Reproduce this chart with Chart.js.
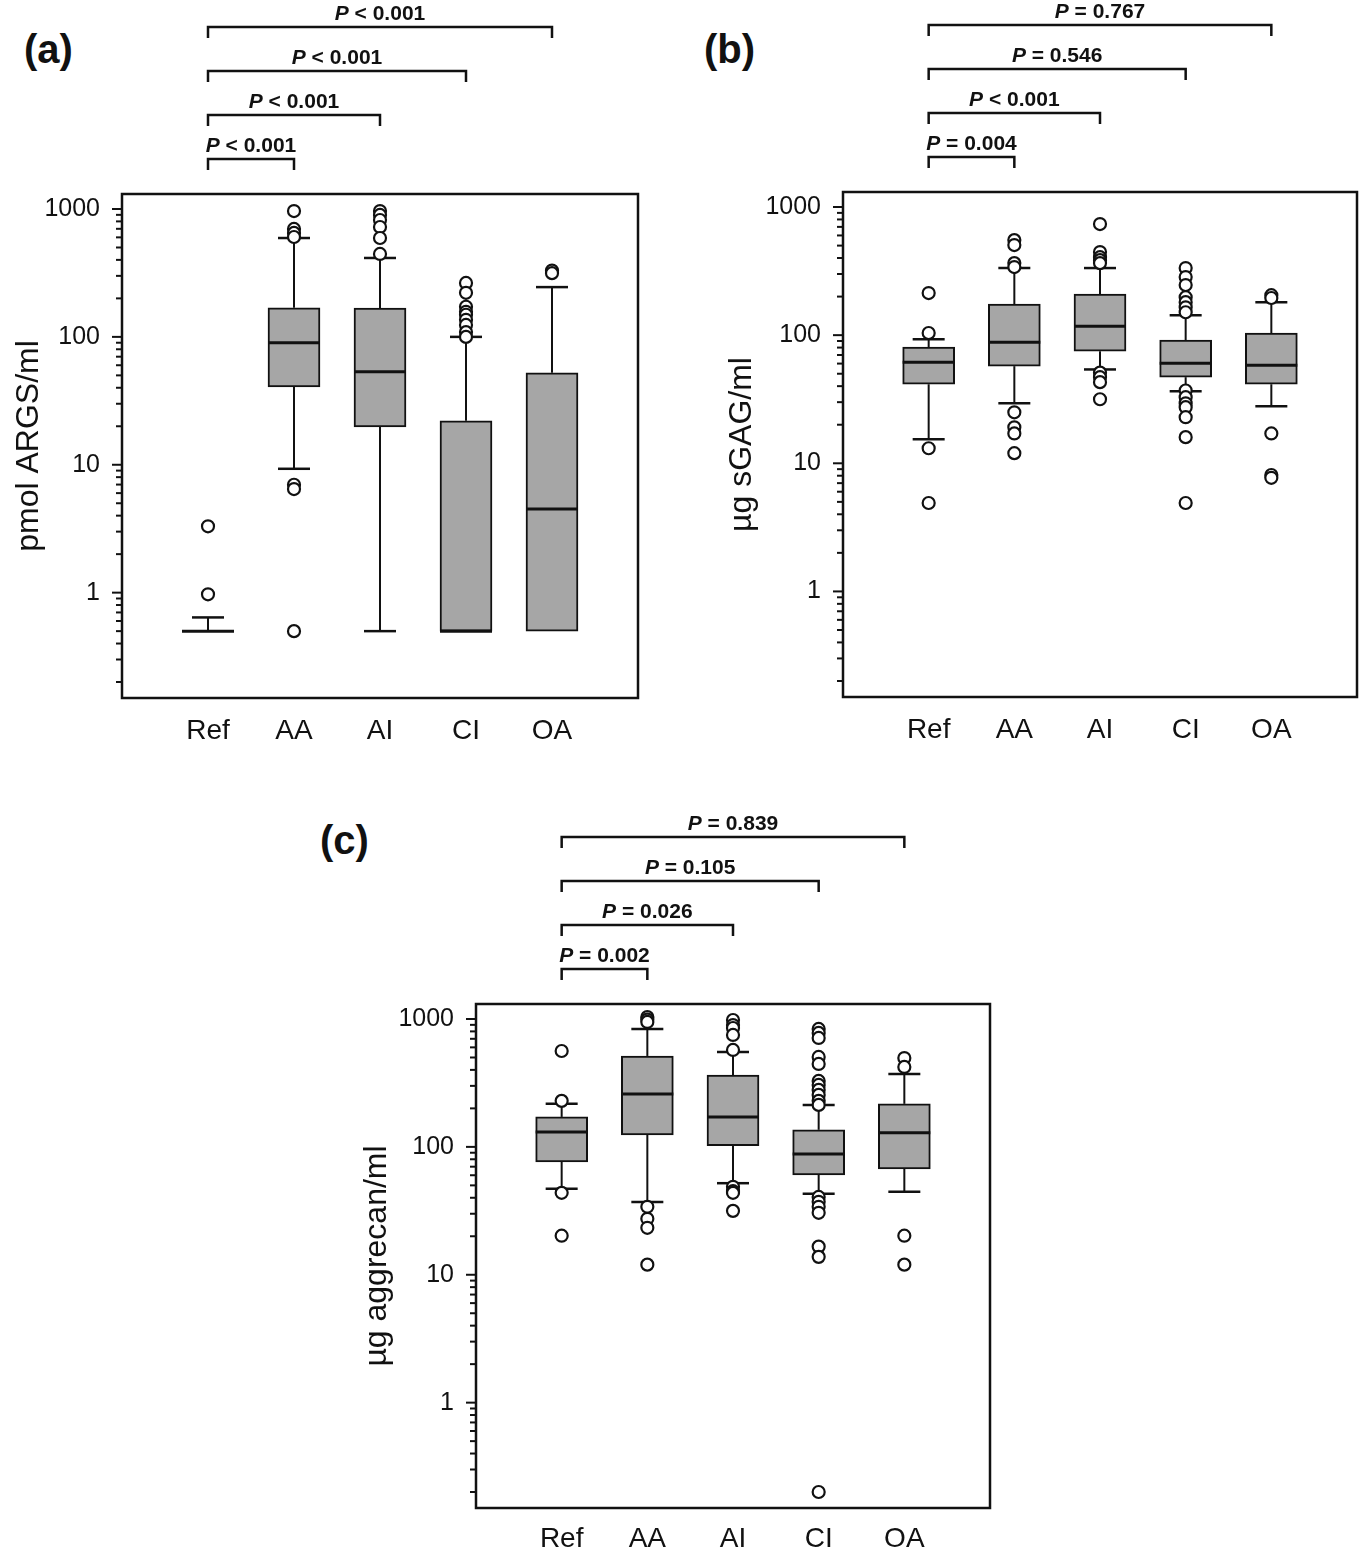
<!DOCTYPE html>
<html>
<head>
<meta charset="utf-8">
<script src="https://cdn.jsdelivr.net/npm/chart.js@4.4.1/dist/chart.umd.min.js"></script>
<style>
  body { margin: 0; background: #fff; }
  #page { position: relative; width: 1360px; height: 1550px; overflow: hidden; }
  .panel { position: absolute; }
  .tag { position: absolute; font: bold 40px "Liberation Sans", Arial, sans-serif; color: #111; line-height: 44px; }
</style>
</head>
<body>
<div id="page">
  <div class="tag" style="left:24px;top:27px">(a)</div>
  <div class="tag" style="left:704px;top:27px">(b)</div>
  <div class="tag" style="left:320px;top:818px">(c)</div>
  <div class="panel" style="left:0;top:0;width:680px;height:790px"><canvas id="chartA"></canvas></div>
  <div class="panel" style="left:680px;top:0;width:700px;height:790px"><canvas id="chartB"></canvas></div>
  <div class="panel" style="left:300px;top:790px;width:720px;height:760px"><canvas id="chartC"></canvas></div>
</div>
<script>
const groups = ['Ref', 'AA', 'AI', 'CI', 'OA'];
const yTickValues = [1, 10, 100, 1000];

// (a) pmol ARGS/ml
const argsLow    = [0.5, 9.3, 0.5, 0.5, 0.5];
const argsQ1     = [0.5, 40.6, 19.8, 0.5, 0.5];
const argsMedian = [0.5, 89.8, 53.3, 0.5, 4.5];
const argsQ3     = [0.5, 169, 168, 22.1, 52.4];
const argsHigh   = [0.64, 593, 414, 100, 245];
const argsOutliers = [
  [0.97, 3.3],
  [964, 698, 650, 604, 6.98, 6.46, 0.5],
  [964, 898, 820, 723, 593, 445],
  [264, 221, 172, 157, 149, 136, 124, 109, 100],
  [330, 315]
];
const argsP = ['< 0.001', '< 0.001', '< 0.001', '< 0.001'];

// (b) µg sGAG/ml
const sgagLow    = [15.4, 29.4, 54, 36.5, 27.9];
const sgagQ1     = [41.4, 57.3, 75, 47, 41.4];
const sgagMedian = [61.5, 88, 117.5, 60.4, 58.3];
const sgagQ3     = [80.6, 174.6, 209, 91.4, 104];
const sgagHigh   = [93, 334, 334, 143, 181];
const sgagOutliers = [
  [213, 104, 13.1, 4.9],
  [552, 505, 365, 340, 25, 19.1, 17.1, 12],
  [736, 445, 406, 385, 365, 51, 47, 43, 31.6],
  [334, 284, 246, 198, 181, 165, 151, 37, 32.8, 29.4, 27.4, 22.9, 16, 4.9],
  [205, 195, 17.1, 8.1, 7.7]
];
const sgagP = ['= 0.004', '< 0.001', '= 0.546', '= 0.767'];

// (c) µg aggrecan/ml
const aggLow    = [47, 37, 52, 43, 44.5];
const aggQ1     = [76.4, 124, 102, 60.4, 67.3];
const aggMedian = [131, 259, 171, 88, 129];
const aggQ3     = [171.5, 514, 365, 136, 217];
const aggHigh   = [217, 836, 552, 213, 372];
const aggOutliers = [
  [562, 229, 43.7, 20.2],
  [1036, 990, 948, 34, 27.4, 23.3, 12],
  [982, 897, 850, 750, 573, 48.7, 45, 43.7, 31.6],
  [836, 778, 711, 505, 445, 328, 305, 279, 255, 229, 213, 40.6, 37.2, 34, 30.5, 16.6, 13.8, 0.2],
  [495, 422, 20.2, 12]
];
const aggP = ['= 0.002', '= 0.026', '= 0.105', '= 0.839'];

const INK = '#111';
const FONT = '"Liberation Sans", Arial, sans-serif';

const boxDecor = {
  id: 'boxDecor',
  beforeDatasetsDraw(chart, args, o) {
    const {ctx, scales: {x, y}} = chart;
    ctx.save();
    ctx.strokeStyle = INK;
    o.q1.forEach((q1, i) => {
      const px = x.getPixelForValue(i + 1);
      [[o.q3[i], o.high[i]], [q1, o.low[i]]].forEach(([from, to]) => {
        if (from === to) return;
        const y0 = y.getPixelForValue(from), y1 = y.getPixelForValue(to);
        ctx.lineWidth = 2;
        ctx.beginPath(); ctx.moveTo(px, y0); ctx.lineTo(px, y1); ctx.stroke();
        ctx.lineWidth = 2.5;
        ctx.beginPath(); ctx.moveTo(px - 16, y1); ctx.lineTo(px + 16, y1); ctx.stroke();
      });
    });
    ctx.restore();
  },
  afterDatasetDraw(chart, args, o) {
    if (args.meta.type !== 'bar') return;
    const {ctx, scales: {y}} = chart;
    ctx.save();
    ctx.strokeStyle = INK;
    ctx.lineWidth = 3;
    args.meta.data.forEach((bar, i) => {
      const py = y.getPixelForValue(o.median[i]);
      ctx.beginPath(); ctx.moveTo(bar.x - bar.width / 2, py); ctx.lineTo(bar.x + bar.width / 2, py); ctx.stroke();
    });
    ctx.restore();
  },
  afterDraw(chart, args, o) {
    const {ctx, chartArea: a, scales: {x, y}} = chart;
    ctx.save();
    ctx.strokeStyle = INK;
    ctx.lineWidth = 2.5;
    ctx.strokeRect(a.left, a.top, a.right - a.left, a.bottom - a.top);

    // log tick marks, long on decades
    ctx.lineWidth = 2;
    for (let e = -1; e <= 3; e++) {
      for (let d = 1; d <= 9; d++) {
        const v = d * Math.pow(10, e);
        if (v < y.min || v > y.max) continue;
        const py = y.getPixelForValue(v);
        const len = d === 1 ? 10 : 6;
        ctx.beginPath(); ctx.moveTo(a.left - len, py); ctx.lineTo(a.left, py); ctx.stroke();
      }
    }

    // comparison brackets against Ref
    const x0 = x.getPixelForValue(1);
    o.pvals.forEach((p, i) => {
      const x1 = x.getPixelForValue(i + 2);
      const ly = a.top - 35 - i * 44;
      ctx.lineWidth = 2.5;
      ctx.beginPath();
      ctx.moveTo(x0, ly + 11); ctx.lineTo(x0, ly); ctx.lineTo(x1, ly); ctx.lineTo(x1, ly + 11);
      ctx.stroke();
      ctx.fillStyle = INK;
      ctx.textBaseline = 'alphabetic';
      ctx.font = 'italic bold 21px ' + FONT;
      const wP = ctx.measureText('P').width;
      ctx.font = 'bold 21px ' + FONT;
      const rest = ' ' + p;
      const wR = ctx.measureText(rest).width;
      const sx = (x0 + x1) / 2 - (wP + wR) / 2;
      ctx.font = 'italic bold 21px ' + FONT;
      ctx.fillText('P', sx, ly - 7);
      ctx.font = 'bold 21px ' + FONT;
      ctx.fillText(rest, sx + wP, ly - 7);
    });
    ctx.restore();
  }
};

function makePanel(id, d) {
  const outlierPts = [];
  d.outliers.forEach((list, i) => list.forEach(v => outlierPts.push({x: i + 1, y: v})));
  new Chart(document.getElementById(id), {
    type: 'bar',
    data: {
      datasets: [{
        type: 'bar',
        data: groups.map((g, i) => ({x: i + 1, y: [d.q1[i], d.q3[i]]})),
        backgroundColor: '#a6a6a6',
        borderColor: INK,
        borderWidth: 2,
        borderSkipped: false,
        barThickness: 52,
        order: 1
      }, {
        type: 'scatter',
        data: outlierPts,
        pointStyle: 'circle',
        pointRadius: 6,
        pointBorderWidth: 2.2,
        pointBackgroundColor: '#fff',
        pointBorderColor: INK,
        order: 0
      }]
    },
    options: {
      responsive: true,
      maintainAspectRatio: false,
      animation: false,
      layout: {padding: d.padding},
      plugins: {
        legend: {display: false},
        tooltip: {enabled: false},
        boxDecor: {q1: d.q1, q3: d.q3, median: d.median, low: d.low, high: d.high, pvals: d.pvals}
      },
      scales: {
        x: {
          type: 'linear',
          offset: false,
          min: 0, max: 6,
          afterBuildTicks: s => { s.ticks = groups.map((g, i) => ({value: i + 1})); },
          afterFit: s => { s.height = d.xHeight; },
          grid: {display: false, drawTicks: false},
          border: {display: false},
          ticks: {
            callback: v => groups[v - 1],
            padding: d.xPad,
            color: INK,
            font: {family: FONT, size: 28},
            maxRotation: 0
          }
        },
        y: {
          type: 'logarithmic',
          min: 0.15, max: 1310,
          afterBuildTicks: s => { s.ticks = yTickValues.map(v => ({value: v})); },
          afterFit: s => { s.width = d.yWidth; },
          grid: {display: false, drawTicks: false},
          border: {display: false},
          ticks: {
            callback: v => String(v),
            padding: 22,
            color: INK,
            font: {family: FONT, size: 25}
          },
          title: {
            display: true,
            text: d.title,
            color: INK,
            font: {family: FONT, size: 32},
            padding: {top: d.titlePad, bottom: 0}
          }
        }
      }
    },
    plugins: [boxDecor]
  });
}

makePanel('chartA', {
  low: argsLow, q1: argsQ1, median: argsMedian, q3: argsQ3, high: argsHigh,
  outliers: argsOutliers, pvals: argsP, title: 'pmol ARGS/ml',
  padding: {top: 194, right: 42, bottom: 32, left: 0}, yWidth: 122, xHeight: 60, xPad: 16, titlePad: 10
});
makePanel('chartB', {
  low: sgagLow, q1: sgagQ1, median: sgagMedian, q3: sgagQ3, high: sgagHigh,
  outliers: sgagOutliers, pvals: sgagP, title: 'µg sGAG/ml',
  padding: {top: 192, right: 23, bottom: 33, left: 0}, yWidth: 163, xHeight: 60, xPad: 16, titlePad: 43
});
makePanel('chartC', {
  low: aggLow, q1: aggQ1, median: aggMedian, q3: aggQ3, high: aggHigh,
  outliers: aggOutliers, pvals: aggP, title: 'µg aggrecan/ml',
  padding: {top: 214, right: 30, bottom: 0, left: 0}, yWidth: 176, xHeight: 42, xPad: 14, titlePad: 58
});
</script>
</body>
</html>
